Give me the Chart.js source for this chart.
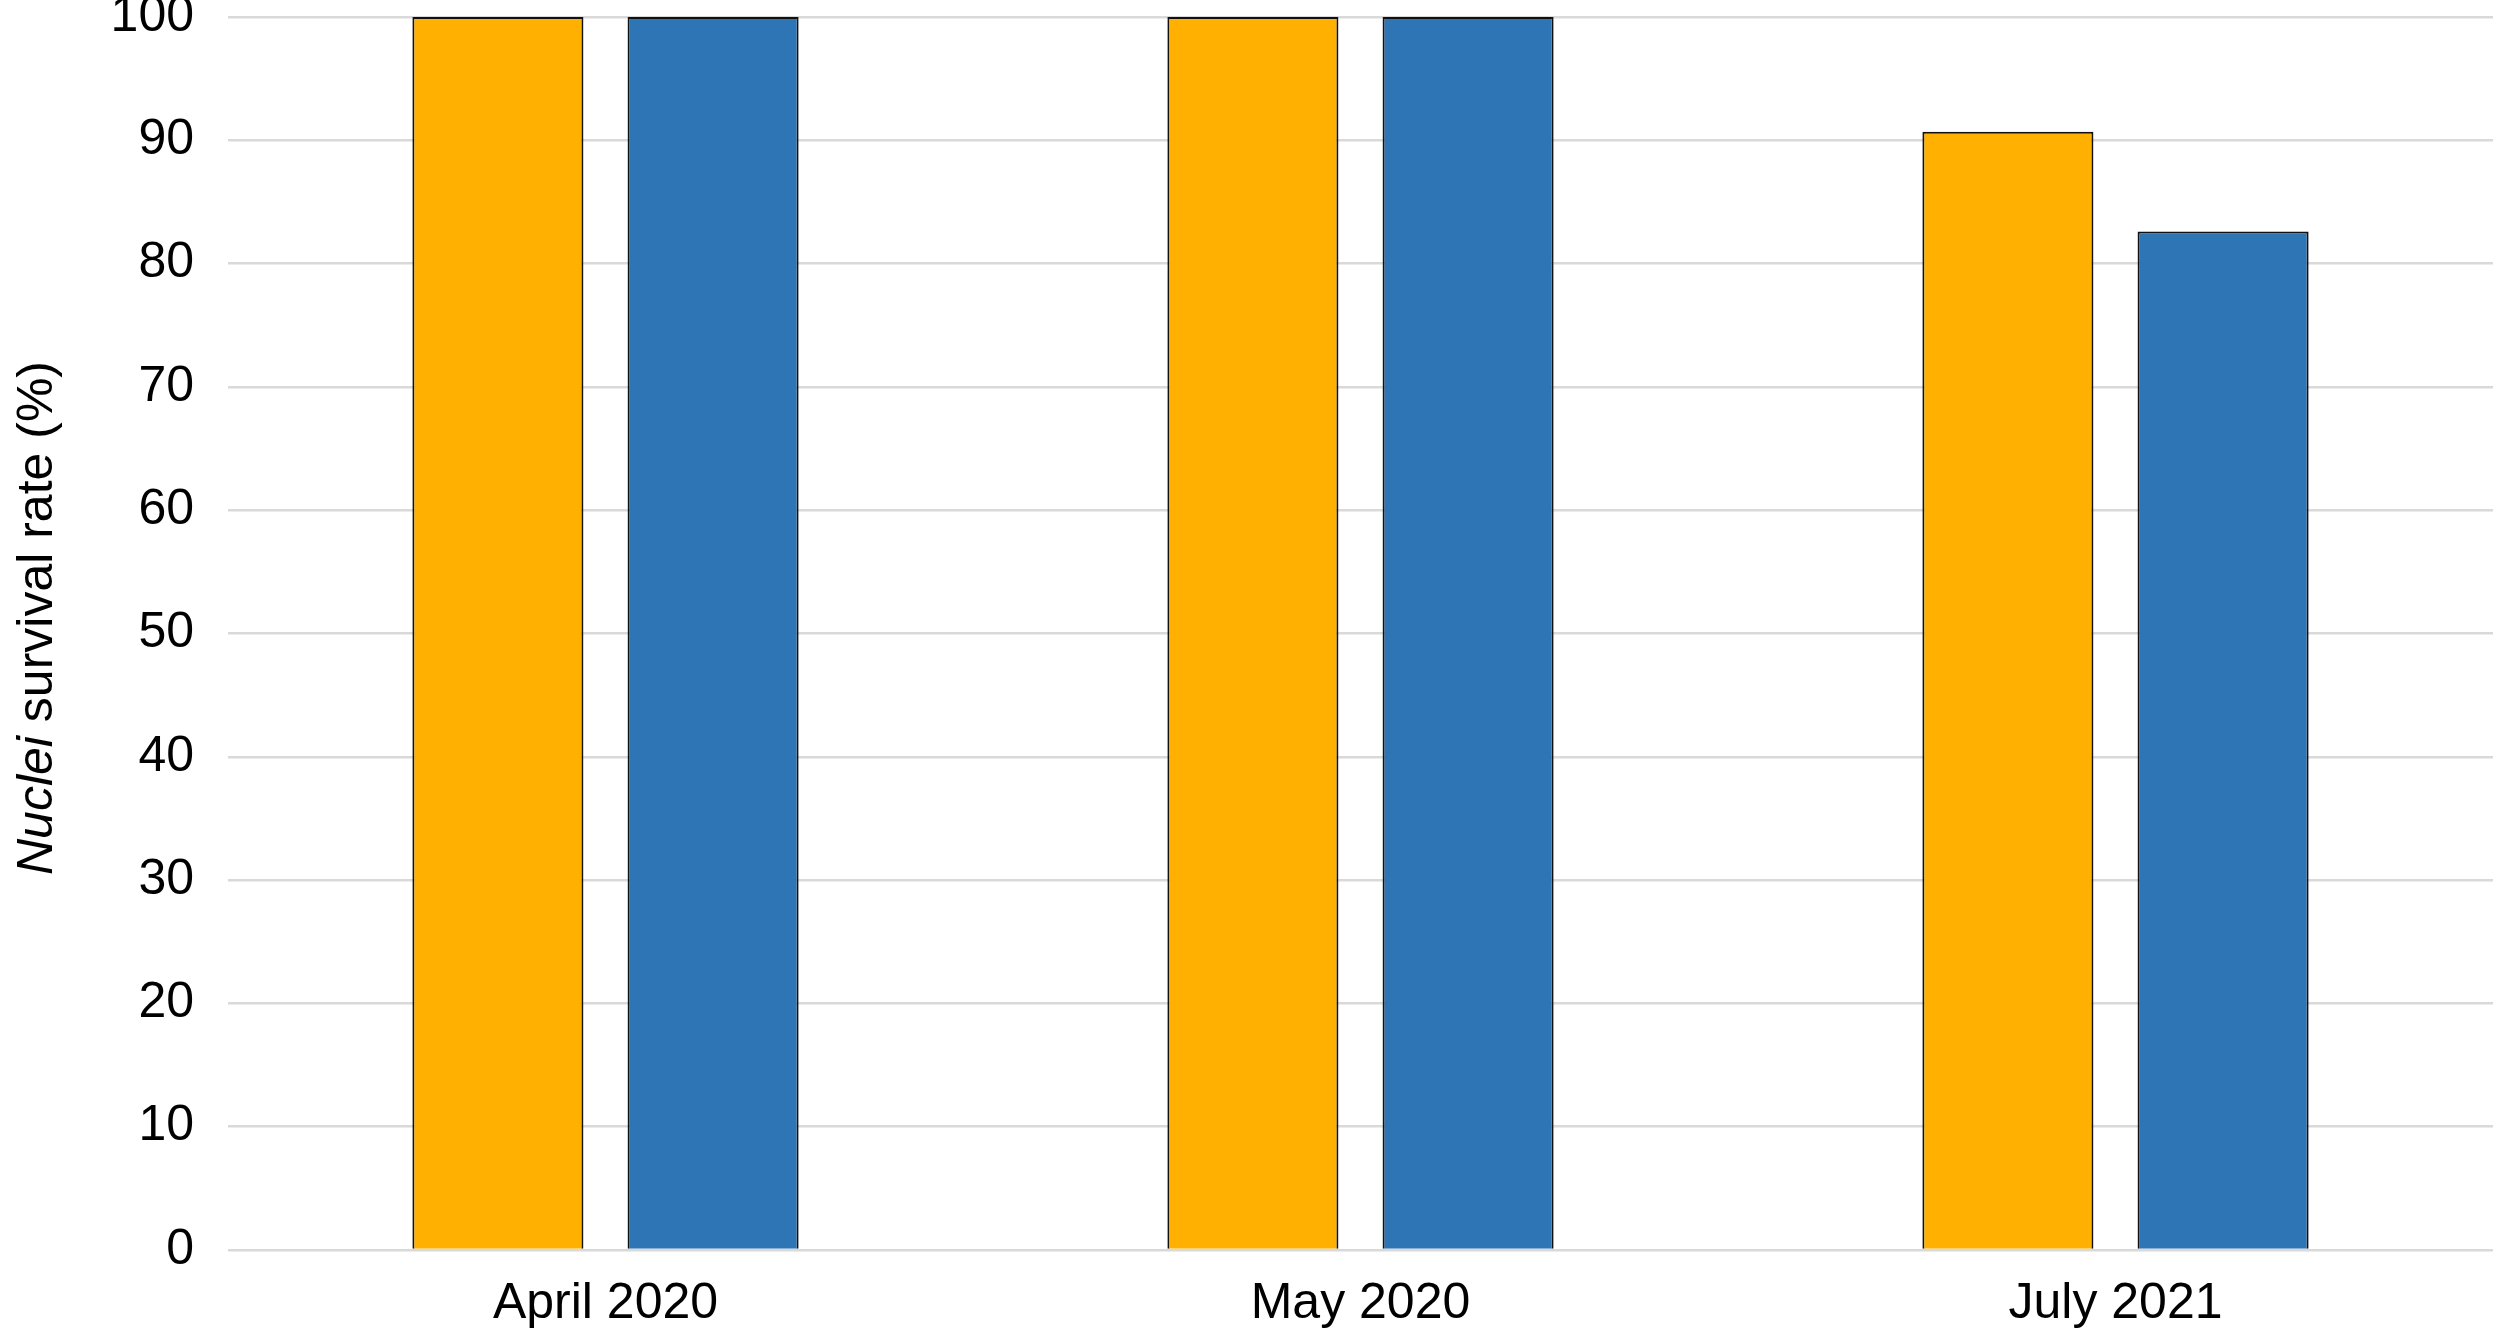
<!DOCTYPE html>
<html>
<head>
<meta charset="utf-8">
<script src="https://cdn.jsdelivr.net/npm/chart.js@4.4.1/dist/chart.umd.min.js"></script>
<style>
html,body{margin:0;padding:0;background:#fff;}
#wrap{width:2500px;height:1331px;position:relative;}
</style>
</head>
<body>
<div id="wrap"><canvas id="c" width="2500" height="1331"></canvas></div>
<script>
const categories = ["April 2020", "May 2020", "July 2021"];
const seriesA = [100, 100, 90.7];
const seriesB = [100, 100, 82.6];
const yTicks = [0, 10, 20, 30, 40, 50, 60, 70, 80, 90, 100];
const yTitleItalic = "Nuclei";
const yTitleRest = " survival rate (%)";

const FONT = "'Liberation Sans', Arial, sans-serif";

const yTitlePlugin = {
  id: 'yTitle',
  afterDraw(chart) {
    const ctx = chart.ctx;
    ctx.save();
    ctx.translate(52, 618);
    ctx.rotate(-Math.PI / 2);
    ctx.fillStyle = '#000';
    ctx.textBaseline = 'alphabetic';
    const fi = "italic 50px " + FONT;
    const fn = "50px " + FONT;
    ctx.font = fi;
    const w1 = ctx.measureText(yTitleItalic).width;
    ctx.font = fn;
    const w2 = ctx.measureText(yTitleRest).width;
    let x = -(w1 + w2) / 2;
    ctx.font = fi;
    ctx.textAlign = 'left';
    ctx.fillText(yTitleItalic, x, 0);
    ctx.font = fn;
    ctx.fillText(yTitleRest, x + w1, 0);
    ctx.restore();
  }
};

new Chart(document.getElementById('c'), {
  type: 'bar',
  data: {
    labels: categories,
    datasets: [
      { data: seriesA, backgroundColor: '#FFB000', borderColor: '#111', borderWidth: 2,
        categoryPercentage: 0.57, barPercentage: 0.795 },
      { data: seriesB, backgroundColor: '#2E75B6', borderColor: '#111', borderWidth: 2,
        categoryPercentage: 0.57, barPercentage: 0.795 }
    ]
  },
  options: {
    responsive: false,
    animation: false,
    devicePixelRatio: 1,
    layout: { padding: { top: 17, right: 7, left: 0, bottom: 0 } },
    plugins: { legend: { display: false }, tooltip: { enabled: false } },
    scales: {
      x: {
        grid: { display: false, drawTicks: false },
        border: { display: false },
        ticks: { color: '#000', font: { family: FONT, size: 50 }, padding: 24 },
        afterFit(s) { s.height = 81; s.paddingLeft = 0; s.paddingRight = 0; }
      },
      y: {
        min: 0, max: 100,
        afterBuildTicks(s) { s.ticks = yTicks.map(v => ({ value: v })); },
        grid: { color: '#D9D9D9', lineWidth: 2.5, drawTicks: false },
        border: { display: false },
        ticks: { color: '#000', font: { family: FONT, size: 50 }, padding: 34 },
        afterFit(s) { s.width = 228; s.paddingTop = 0; s.paddingBottom = 0; }
      }
    }
  },
  plugins: [yTitlePlugin]
});
</script>
</body>
</html>
